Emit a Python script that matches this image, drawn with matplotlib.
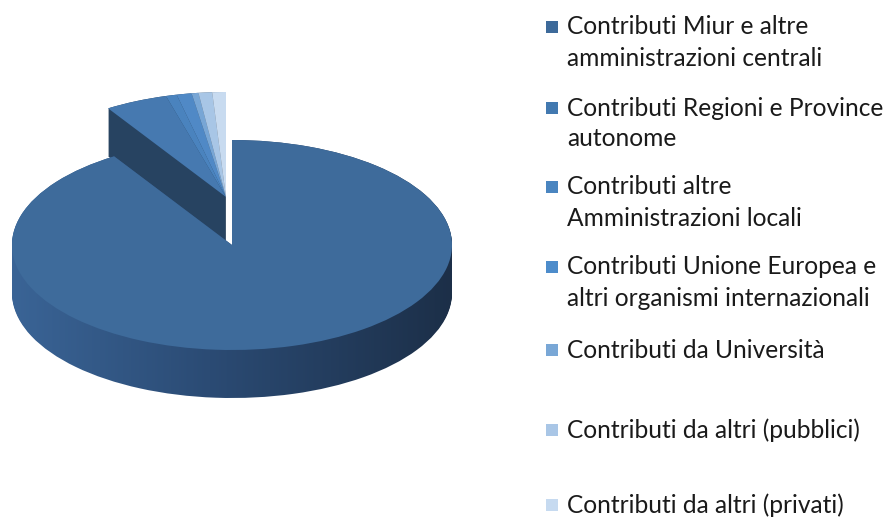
import matplotlib
matplotlib.use("Agg")
import matplotlib.pyplot as plt
from matplotlib.patches import Rectangle
import matplotlib.colors as mcolors
import numpy as np

labels = [
    "Contributi Miur e altre\namministrazioni centrali",
    "Contributi Regioni e Province\nautonome",
    "Contributi altre\nAmministrazioni locali",
    "Contributi Unione Europea e\naltri organismi internazionali",
    "Contributi da Università",
    "Contributi da altri (pubblici)",
    "Contributi da altri (privati)",
]
values = [91.0, 4.6, 0.8, 1.1, 0.5, 1.0, 1.0]
colors = ["#3e6b9b", "#4679b0", "#4a83be", "#5089c6", "#78a6d5", "#a8c6e6", "#c8dbf0"]
legend_colors = ["#3d6a9a", "#4279b0", "#4a85c0", "#4d8ccb", "#79a7d6", "#a9c6e6", "#c6daf0"]

W, H = 887, 517
fig = plt.figure(figsize=(W / 100, H / 100), dpi=100)
fig.patch.set_facecolor("white")

ax_w = 480
ax = fig.add_axes([0, 0, ax_w / W, 1])
cx, cy, rx, ry = 232, 245, 220, 105
depth = 48 / ry
# the detached (exploded) small slices sit higher and slightly left in the 3-D view
small_center = ((226 - cx) / rx, (cy - 197) / ry)

def darken(c, f):
    r, g, b = mcolors.to_rgb(c)
    return (r * f, g * f, b * f)

side_colors = [darken(c, 0.55) for c in colors]
n_layers = 48
wp = dict(linewidth=0, antialiased=True)

main_only = lambda cols: [cols[0]] + ["none"] * (len(cols) - 1)
small_only = lambda cols: ["none"] + list(cols[1:])

# --- small (exploded) slices: side then top
for i in range(n_layers + 1):
    off = -depth + depth * i / n_layers
    ax.pie(values, colors=small_only(side_colors), startangle=90, counterclock=False,
           center=(small_center[0], small_center[1] + off), radius=1.0, wedgeprops=wp)
ax.pie(values, colors=small_only(colors), startangle=90, counterclock=False,
       center=small_center, radius=1.0, wedgeprops=wp)

# --- main slice: side with horizontal shading, then top
grad = np.linspace(0, 1, 256)[None, :]
side_cmap = mcolors.LinearSegmentedColormap.from_list(
    "side", [(0.0, "#3a6496"), (0.45, "#2b4b74"), (1.0, "#1c2f48")])
xl = (-cx / rx, (ax_w - cx) / rx)
for i in range(n_layers + 1):
    off = -depth + depth * i / n_layers
    wedges, _ = ax.pie(values, colors=["none"] * len(values), startangle=90,
                       counterclock=False, center=(0, off), radius=1.0, wedgeprops=wp)
    im = ax.imshow(grad, cmap=side_cmap, aspect="auto",
                   extent=(-1.0, 1.0, -1 - depth, 1), zorder=wedges[0].get_zorder(),
                   interpolation="bilinear")
    im.set_clip_path(wedges[0])
wedges, _ = ax.pie(values, colors=main_only(colors), startangle=90, counterclock=False,
                   center=(0, 0), radius=1.0, wedgeprops=wp)
for w in wedges:
    w.set_zorder(5)

ax.set_aspect("auto")
ax.set_xlim(*xl)
ax.set_ylim(-(H - cy) / ry, cy / ry)
ax.axis("off")

# legend (manual, to match layout)
font = "Lato"
line_y = [(27, 58), (108, 139), (187, 218), (267, 298), (350,), (430,), (505,)]
tx = 567
target_w = 315
probe = fig.text(0, 0, "Contributi Regioni e Province", fontsize=18, family=font)
fig.canvas.draw()
bw = probe.get_window_extent(renderer=fig.canvas.get_renderer()).width
probe.remove()
fs = 18 * target_w / bw

for lab, ys, col in zip(labels, line_y, legend_colors):
    for line, y in zip(lab.split("\n"), ys):
        fig.text(tx / W, 1 - y / H, line, fontsize=fs, family=font,
                 color="#1a1a1a", va="center", ha="left")
    y0 = ys[0]
    sq = 12
    fig.add_artist(Rectangle(((tx - 21) / W, 1 - (y0 + sq / 2) / H), sq / W, sq / H,
                             transform=fig.transFigure, facecolor=col, edgecolor="none"))

fig.savefig("out.png", dpi=100, facecolor="white")
